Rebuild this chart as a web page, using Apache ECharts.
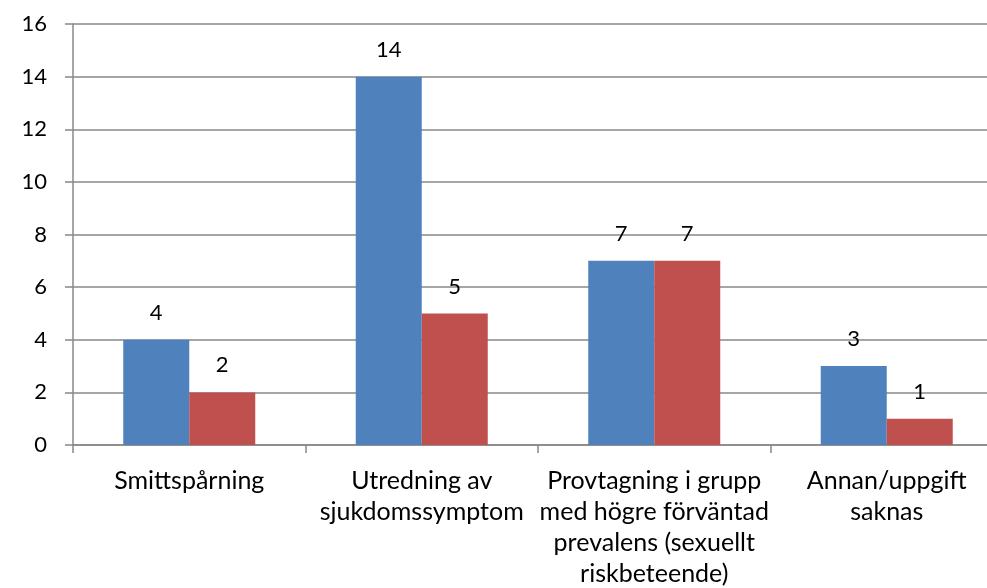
<!DOCTYPE html>
<html>
<head>
<meta charset="utf-8">
<script src="https://cdn.jsdelivr.net/npm/echarts@6/dist/echarts.min.js"></script>
<style>
  html, body { margin: 0; padding: 0; background: #fff; }
  #chart { width: 987px; height: 588px; }
</style>
</head>
<body>
<div id="chart"></div>
<script>
  var categories = [
    'Smittspårning',
    'Utredning av\nsjukdomssymptom',
    'Provtagning i grupp\nmed högre förväntad\nprevalens (sexuellt\nriskbeteende)',
    'Annan/uppgift\nsaknas'
  ]
  var blueValues = [4, 14, 7, 3]
  var redValues = [2, 5, 7, 1]
  var yTicks = { min: 0, max: 16, interval: 2 }

  var font = 'Lato, "Open Sans", sans-serif'
  var lineColor = '#888888'

  var chart = echarts.init(document.getElementById('chart'))
  chart.setOption({
    animation: false,
    grid: { left: 73, top: 24, width: 930, height: 421, containLabel: false, outerBoundsMode: 'none' },
    xAxis: {
      type: 'category',
      data: categories,
      axisLine: { lineStyle: { color: lineColor, width: 1.5 } },
      axisTick: { show: true, length: 8, lineStyle: { color: lineColor, width: 1.5 } },
      axisLabel: { color: '#000', fontSize: 25, fontFamily: font, lineHeight: 31, margin: 20, interval: 0 }
    },
    yAxis: {
      type: 'value',
      min: yTicks.min,
      max: yTicks.max,
      interval: yTicks.interval,
      axisLine: { show: true, lineStyle: { color: lineColor, width: 1.5 } },
      axisTick: { show: true, length: 8, lineStyle: { color: lineColor, width: 1.5 } },
      axisLabel: { color: '#000', fontSize: 22, fontFamily: font, margin: 26 },
      splitLine: { show: true, lineStyle: { color: lineColor, width: 1.5 } }
    },
    series: [
      {
        type: 'bar',
        data: blueValues,
        barWidth: 66,
        barGap: '0%',
        itemStyle: { color: '#4F81BD' },
        label: { show: true, position: 'top', distance: 16, color: '#000', fontSize: 22, fontFamily: font }
      },
      {
        type: 'bar',
        data: redValues,
        barWidth: 66,
        barGap: '0%',
        itemStyle: { color: '#C0504D' },
        label: { show: true, position: 'top', distance: 16, color: '#000', fontSize: 22, fontFamily: font }
      }
    ]
  })
</script>
</body>
</html>
